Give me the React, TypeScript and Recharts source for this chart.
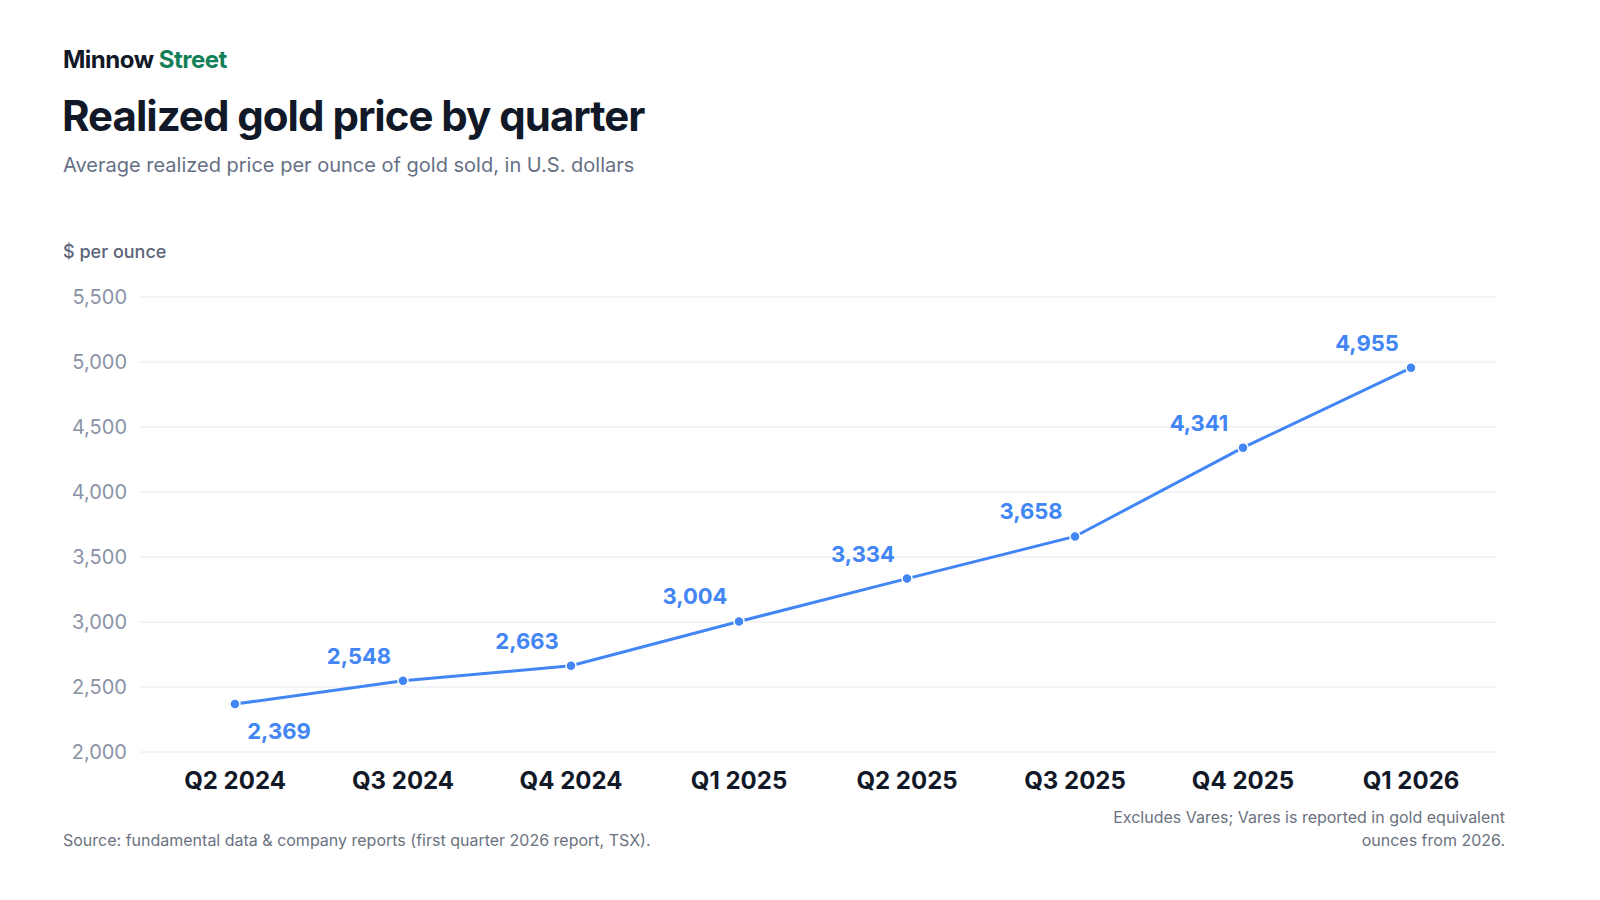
import React from "react";
import { LineChart, Line, XAxis, YAxis, CartesianGrid, LabelList } from "recharts";

const quarters = ["Q2 2024", "Q3 2024", "Q4 2024", "Q1 2025", "Q2 2025", "Q3 2025", "Q4 2025", "Q1 2026"];
const prices = [2369, 2548, 2663, 3004, 3334, 3658, 4341, 4955];
const yTicks = [2000, 2500, 3000, 3500, 4000, 4500, 5000, 5500];

const data = quarters.map((q, i) => ({ q, v: prices[i] }));
const BLUE = "#4285f4";
const font = "Inter, 'Noto Sans', sans-serif";

const PointLabel = (props: any) => {
  const { x, y, value, index } = props;
  const below = index === 0;
  return (
    <text x={below ? x + 44 : x - 44} y={below ? y + 35 : y - 17} textAnchor="middle"
      fill={BLUE} fontSize={22} fontWeight={700} fontFamily={font}>
      {Number(value).toLocaleString("en-US")}
    </text>
  );
};

export default function App() {
  return (
    <div style={{ position: "fixed", left: 0, top: 0, width: 1600, height: 900, background: "#fff", fontFamily: font }}>
      <div style={{ position: "absolute", left: 63, top: 45, fontSize: 24, fontWeight: 700, color: "#111827", letterSpacing: -0.5 }}>
        Minnow <span style={{ color: "#137f5a" }}>Street</span>
      </div>
      <div style={{ position: "absolute", left: 62, top: 90, fontSize: 42, fontWeight: 700, color: "#111827", letterSpacing: -1 }}>
        Realized gold price by quarter
      </div>
      <div style={{ position: "absolute", left: 63, top: 153, fontSize: 20, color: "#667085" }}>
        Average realized price per ounce of gold sold, in U.S. dollars
      </div>
      <div style={{ position: "absolute", left: 63, top: 241, fontSize: 18, fontWeight: 500, color: "#5b6478" }}>
        $ per ounce
      </div>
      <div style={{ position: "absolute", left: 63, top: 830, fontSize: 16, color: "#6b7280" }}>
        Source: fundamental data &amp; company reports (first quarter 2026 report, TSX).
      </div>
      <div style={{ position: "absolute", right: 95, top: 806, fontSize: 16, color: "#6b7280", textAlign: "right", lineHeight: "23px" }}>
        Excludes Vares; Vares is reported in gold equivalent<br />ounces from 2026.
      </div>
      <div style={{ position: "absolute", left: 0, top: 0 }}>
        <LineChart width={1600} height={900} data={data} margin={{ top: 297, bottom: 88, left: 60, right: 104 }}>
          <CartesianGrid vertical={false} stroke="#e8e8ec" />
          <XAxis dataKey="q" axisLine={false} tickLine={false} padding={{ left: 95, right: 85 }}
            tick={{ fontSize: 24, fontWeight: 700, fill: "#111827", fontFamily: font }} tickMargin={14} height={60} />
          <YAxis width={80} domain={[2000, 5500]} ticks={yTicks} axisLine={false} tickLine={false} tickMargin={7}
            tickFormatter={(v: number) => v.toLocaleString("en-US")}
            tick={{ fontSize: 20, fill: "#8a93a6", fontFamily: font }} />
          <Line dataKey="v" stroke={BLUE} strokeWidth={3} isAnimationActive={false}
            dot={{ r: 5, fill: BLUE, stroke: "#fff", strokeWidth: 1.5 }}>
            <LabelList dataKey="v" content={PointLabel} />
          </Line>
        </LineChart>
      </div>
    </div>
  );
}
